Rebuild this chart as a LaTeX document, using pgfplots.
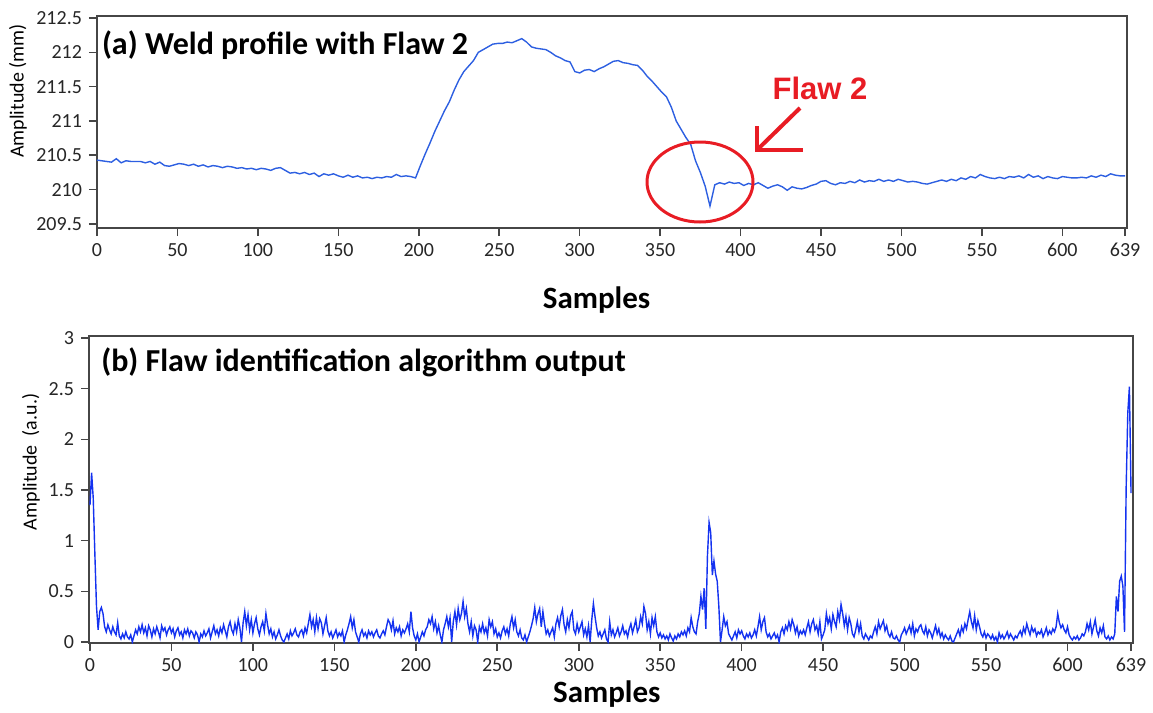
\documentclass[border=0pt]{standalone}
\usepackage{fontspec}
\setmainfont{Carlito}
\newfontfamily\arialfont{Liberation Sans}
\usepackage{pgfplots}
\pgfplotsset{compat=1.18}

\definecolor{lineA}{RGB}{45,95,225}
\definecolor{lineB}{RGB}{20,50,240}
\definecolor{flawred}{RGB}{232,28,36}
\definecolor{framec}{RGB}{70,70,70}

\pgfplotsset{
  panel/.style={
    scale only axis,
    axis line style={framec, line width=0.9pt},
    tick pos=left, tick align=outside,
    major tick length=4pt,
    tick style={framec, line width=0.8pt},
    ticklabel style={font=\fontsize{10}{11}\selectfont, text=black!85},
    /pgf/number format/assume math mode=true,
    scaled ticks=false,
    xtick={0,50,100,150,200,250,300,350,400,450,500,550,600,639},
    label style={anchor=center},
    xlabel style={font=\bfseries\fontsize{15.5}{16}\selectfont},
    ylabel style={font=\fontsize{10}{11}\selectfont},
  },
}

\begin{document}
\begin{tikzpicture}
\useasboundingbox (0,0) rectangle (576.5pt,-356.5pt);

% (a) weld profile
\begin{axis}[panel,
  at={(48.5pt,-8pt)}, anchor=north west,
  width=515pt, height=106pt,
  xmin=0, xmax=640.2, ymin=209.44, ymax=212.53,
  ytick={209.5,210,210.5,211,211.5,212,212.5},
  xlabel={Samples}, xlabel style={at={(axis description cs:0.485,-0.34)}},
  ylabel={Amplitude (mm)}, ylabel style={at={(axis description cs:-0.0767,0.646)}},
]
\addplot[lineA, line width=0.7pt] table[x expr=\coordindex*3, y index=0, header=false, row sep=\\] {
210.43\\210.42\\210.41\\210.40\\210.45\\210.39\\210.42\\210.41\\210.41\\210.41\\
210.39\\210.41\\210.37\\210.40\\210.35\\210.34\\210.36\\210.38\\210.37\\210.35\\
210.37\\210.34\\210.36\\210.33\\210.35\\210.34\\210.32\\210.34\\210.33\\210.31\\
210.32\\210.30\\210.31\\210.29\\210.31\\210.30\\210.28\\210.31\\210.32\\210.28\\
210.24\\210.25\\210.23\\210.25\\210.22\\210.24\\210.19\\210.23\\210.21\\210.23\\
210.20\\210.18\\210.21\\210.18\\210.20\\210.17\\210.18\\210.16\\210.18\\210.17\\
210.19\\210.18\\210.22\\210.19\\210.20\\210.19\\210.17\\210.35\\210.52\\210.68\\
210.85\\211.00\\211.15\\211.28\\211.45\\211.60\\211.72\\211.80\\211.88\\212.00\\
212.04\\212.08\\212.12\\212.13\\212.13\\212.15\\212.14\\212.17\\212.20\\212.15\\
212.08\\212.06\\212.05\\212.04\\212.00\\211.95\\211.92\\211.88\\211.86\\211.72\\
211.70\\211.74\\211.75\\211.72\\211.76\\211.79\\211.83\\211.87\\211.88\\211.85\\
211.84\\211.82\\211.81\\211.74\\211.65\\211.58\\211.50\\211.42\\211.35\\211.20\\
211.00\\210.88\\210.76\\210.66\\210.42\\210.25\\210.05\\209.76\\210.07\\210.10\\
210.08\\210.11\\210.09\\210.10\\210.06\\210.09\\210.07\\210.10\\210.06\\210.02\\
210.05\\210.07\\210.04\\209.99\\210.04\\210.02\\210.01\\210.03\\210.06\\210.08\\
210.12\\210.13\\210.09\\210.07\\210.10\\210.09\\210.12\\210.10\\210.14\\210.11\\
210.13\\210.12\\210.15\\210.12\\210.14\\210.12\\210.15\\210.13\\210.11\\210.12\\
210.11\\210.09\\210.08\\210.10\\210.12\\210.14\\210.12\\210.15\\210.13\\210.17\\
210.15\\210.19\\210.17\\210.22\\210.19\\210.17\\210.16\\210.18\\210.16\\210.19\\
210.18\\210.20\\210.17\\210.22\\210.18\\210.20\\210.16\\210.19\\210.17\\210.16\\
210.19\\210.18\\210.17\\210.17\\210.18\\210.17\\210.20\\210.18\\210.21\\210.19\\
210.23\\210.21\\210.20\\210.20\\
};
\node[anchor=west, font=\bfseries\fontsize{16}{17}\selectfont] at (axis description cs:-0.002,0.863) {(a) Weld profile with Flaw 2};
\end{axis}

% flaw marker
\draw[flawred, line width=1.5pt] (350pt,-91pt) ellipse [x radius=26.5pt, y radius=20pt];
\draw[flawred, line width=2pt] (400pt,-54pt) -- (378.5pt,-75pt);
\draw[flawred, line width=2pt] (378.5pt,-63pt) -- (378.5pt,-75pt) -- (401.5pt,-75pt);
\node[flawred, font=\arialfont\bfseries\fontsize{15.5}{16}\selectfont] at (410pt,-44pt) {Flaw 2};

% (b) algorithm output
\begin{axis}[panel,
  at={(44.5pt,-168pt)}, anchor=north west,
  width=522pt, height=153.5pt,
  xmin=-0.6, xmax=640.2, ymin=-0.01, ymax=3.02,
  ytick={0,0.5,1,1.5,2,2.5,3},
  xlabel={Samples}, xlabel style={at={(axis description cs:0.496,-0.165)}},
  ylabel={Amplitude\ \ (a.u.)}, ylabel style={at={(axis description cs:-0.0556,0.59)}},
]
\addplot[lineB, line width=0.7pt] table[x expr=\coordindex, y index=0, header=false, row sep=\\] {
1.35\\1.67\\1.42\\0.87\\0.35\\0.12\\0.30\\0.34\\0.28\\0.15\\
0.10\\0.17\\0.12\\0.08\\0.15\\0.10\\0.07\\0.19\\0.06\\0.03\\
0.08\\0.04\\0.10\\0.05\\0.03\\0.07\\0.00\\0.06\\0.12\\0.08\\
0.15\\0.10\\0.17\\0.09\\0.14\\0.06\\0.16\\0.12\\0.05\\0.13\\
0.08\\0.15\\0.10\\0.04\\0.16\\0.11\\0.14\\0.07\\0.12\\0.15\\
0.09\\0.13\\0.05\\0.11\\0.14\\0.07\\0.10\\0.04\\0.12\\0.08\\
0.13\\0.06\\0.11\\0.09\\0.04\\0.10\\0.07\\0.00\\0.08\\0.05\\
0.11\\0.06\\0.09\\0.13\\0.04\\0.10\\0.16\\0.08\\0.12\\0.06\\
0.14\\0.09\\0.17\\0.11\\0.05\\0.15\\0.20\\0.12\\0.08\\0.18\\
0.10\\0.22\\0.14\\0.00\\0.19\\0.30\\0.16\\0.27\\0.12\\0.22\\
0.09\\0.18\\0.24\\0.13\\0.07\\0.15\\0.20\\0.11\\0.28\\0.17\\
0.08\\0.13\\0.05\\0.10\\0.03\\0.07\\0.12\\0.06\\0.02\\0.00\\
0.04\\0.08\\0.03\\0.11\\0.06\\0.09\\0.13\\0.07\\0.05\\0.10\\
0.12\\0.06\\0.14\\0.09\\0.18\\0.27\\0.15\\0.22\\0.10\\0.24\\
0.13\\0.23\\0.19\\0.08\\0.16\\0.24\\0.11\\0.06\\0.10\\0.04\\
0.08\\0.12\\0.05\\0.09\\0.06\\0.11\\0.00\\0.07\\0.12\\0.18\\
0.25\\0.14\\0.22\\0.10\\0.05\\0.00\\0.08\\0.12\\0.06\\0.09\\
0.04\\0.11\\0.07\\0.10\\0.05\\0.09\\0.12\\0.06\\0.04\\0.08\\
0.11\\0.07\\0.15\\0.22\\0.19\\0.12\\0.21\\0.08\\0.14\\0.10\\
0.15\\0.06\\0.12\\0.09\\0.13\\0.18\\0.10\\0.30\\0.14\\0.06\\
0.02\\0.08\\0.00\\0.05\\0.10\\0.06\\0.12\\0.15\\0.22\\0.18\\
0.25\\0.13\\0.20\\0.09\\0.16\\0.07\\0.00\\0.12\\0.18\\0.25\\
0.15\\0.24\\0.00\\0.20\\0.30\\0.17\\0.33\\0.22\\0.28\\0.40\\
0.25\\0.33\\0.18\\0.10\\0.20\\0.06\\0.16\\0.12\\0.00\\0.15\\
0.10\\0.18\\0.09\\0.14\\0.06\\0.22\\0.15\\0.20\\0.08\\0.13\\
0.05\\0.09\\0.04\\0.11\\0.15\\0.08\\0.13\\0.06\\0.18\\0.25\\
0.14\\0.22\\0.10\\0.06\\0.12\\0.04\\0.02\\0.07\\0.00\\0.05\\
0.10\\0.16\\0.23\\0.34\\0.20\\0.28\\0.33\\0.15\\0.30\\0.18\\
0.08\\0.12\\0.06\\0.10\\0.14\\0.05\\0.18\\0.24\\0.15\\0.26\\
0.32\\0.17\\0.10\\0.22\\0.14\\0.26\\0.30\\0.12\\0.08\\0.18\\
0.10\\0.15\\0.20\\0.07\\0.13\\0.05\\0.16\\0.00\\0.22\\0.38\\
0.25\\0.14\\0.06\\0.10\\0.04\\0.08\\0.12\\0.03\\0.00\\0.20\\
0.07\\0.12\\0.05\\0.09\\0.14\\0.06\\0.10\\0.16\\0.08\\0.11\\
0.05\\0.13\\0.18\\0.09\\0.15\\0.22\\0.10\\0.14\\0.25\\0.18\\
0.35\\0.28\\0.12\\0.20\\0.08\\0.24\\0.16\\0.25\\0.10\\0.05\\
0.09\\0.04\\0.07\\0.03\\0.06\\0.02\\0.08\\0.04\\0.01\\0.06\\
0.03\\0.08\\0.05\\0.10\\0.07\\0.11\\0.06\\0.14\\0.10\\0.24\\
0.15\\0.10\\0.08\\0.20\\0.28\\0.45\\0.32\\0.53\\0.13\\0.85\\
1.18\\1.08\\0.66\\0.80\\0.67\\0.60\\0.35\\0.00\\0.12\\0.25\\
0.16\\0.20\\0.08\\0.05\\0.02\\0.06\\0.10\\0.04\\0.12\\0.08\\
0.11\\0.06\\0.03\\0.08\\0.05\\0.09\\0.04\\0.07\\0.12\\0.06\\
0.15\\0.25\\0.12\\0.20\\0.24\\0.10\\0.05\\0.08\\0.03\\0.06\\
0.09\\0.04\\0.07\\0.00\\0.10\\0.14\\0.08\\0.16\\0.12\\0.20\\
0.13\\0.22\\0.17\\0.09\\0.15\\0.06\\0.11\\0.08\\0.12\\0.07\\
0.14\\0.20\\0.10\\0.18\\0.22\\0.12\\0.16\\0.08\\0.20\\0.03\\
0.07\\0.12\\0.28\\0.18\\0.24\\0.13\\0.27\\0.20\\0.15\\0.30\\
0.22\\0.37\\0.28\\0.16\\0.25\\0.12\\0.24\\0.18\\0.08\\0.05\\
0.12\\0.20\\0.10\\0.18\\0.06\\0.03\\0.08\\0.05\\0.02\\0.06\\
0.04\\0.10\\0.15\\0.08\\0.20\\0.13\\0.17\\0.21\\0.11\\0.16\\
0.08\\0.05\\0.10\\0.04\\0.03\\0.06\\0.02\\0.00\\0.07\\0.10\\
0.14\\0.08\\0.12\\0.16\\0.09\\0.18\\0.06\\0.13\\0.10\\0.15\\
0.17\\0.11\\0.08\\0.15\\0.06\\0.12\\0.09\\0.04\\0.10\\0.16\\
0.08\\0.13\\0.05\\0.09\\0.03\\0.07\\0.04\\0.02\\0.06\\0.01\\
0.00\\0.04\\0.08\\0.12\\0.06\\0.15\\0.10\\0.18\\0.13\\0.22\\
0.30\\0.20\\0.14\\0.26\\0.12\\0.21\\0.15\\0.08\\0.05\\0.10\\
0.04\\0.08\\0.06\\0.03\\0.07\\0.02\\0.05\\0.00\\0.09\\0.04\\
0.07\\0.03\\0.06\\0.10\\0.04\\0.08\\0.05\\0.02\\0.06\\0.04\\
0.08\\0.11\\0.06\\0.14\\0.09\\0.18\\0.12\\0.07\\0.15\\0.10\\
0.13\\0.06\\0.10\\0.08\\0.12\\0.05\\0.09\\0.14\\0.07\\0.11\\
0.08\\0.13\\0.10\\0.15\\0.28\\0.19\\0.14\\0.17\\0.12\\0.09\\
0.15\\0.07\\0.04\\0.02\\0.05\\0.03\\0.06\\0.02\\0.04\\0.08\\
0.06\\0.10\\0.18\\0.12\\0.20\\0.08\\0.15\\0.22\\0.11\\0.06\\
0.14\\0.09\\0.16\\0.05\\0.03\\0.06\\0.02\\0.05\\0.03\\0.08\\
0.45\\0.30\\0.60\\0.65\\0.55\\0.10\\1.52\\2.26\\2.52\\1.47\\
};
\node[anchor=west, font=\bfseries\fontsize{16}{17}\selectfont] at (axis description cs:0.005,0.915) {(b) Flaw identification algorithm output};
\end{axis}
\end{tikzpicture}
\end{document}
